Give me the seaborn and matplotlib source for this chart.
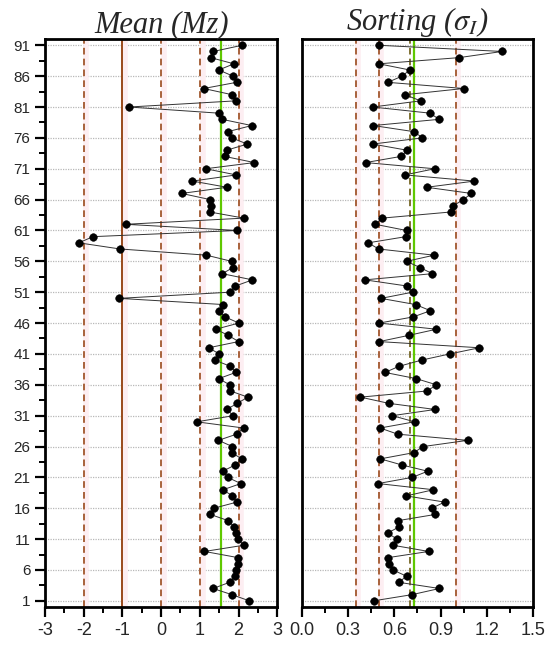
import numpy as np
import matplotlib
matplotlib.use("Agg")
import matplotlib.pyplot as plt
from matplotlib.ticker import MultipleLocator, FixedLocator
import seaborn as sns

# sample number (depth order), 1 at the bottom
sample = list(range(1, 92))

mean_mz = [2.28, 1.83, 1.34, 1.77, 1.91, 1.93, 1.98, 1.99, 1.12, 2.13,
           1.99, 1.93, 1.89, 1.73, 1.27, 1.36, 1.96, 1.84, 1.60, 2.06,
           1.72, 1.59, 1.91, 2.08, 1.83, 1.84, 1.48, 1.95, 2.13, 0.92,
           1.87, 1.69, 1.97, 2.24, 1.79, 1.77, 1.49, 1.93, 1.79, 1.38,
           1.50, 1.23, 2.00, 1.74, 1.41, 2.01, 1.65, 1.50, 1.61, -1.09,
           1.77, 1.92, 2.36, 1.58, 1.86, 1.82, 1.17, -1.06, -2.13, -1.76,
           1.97, -0.92, 2.14, 1.25, 1.29, 1.27, 0.53, 1.70, 0.81, 1.94,
           1.15, 2.41, 1.64, 1.69, 2.23, 1.82, 1.72, 2.34, 1.58, 1.50,
           -0.83, 1.93, 1.83, 1.10, 1.95, 1.86, 1.49, 1.88, 1.28, 1.35,
           2.09]

sorting = [0.465, 0.714, 0.893, 0.629, 0.679, 0.590, 0.563, 0.559, 0.823, 0.592,
           0.616, 0.557, 0.633, 0.625, 0.867, 0.843, 0.926, 0.677, 0.854, 0.494,
           0.716, 0.817, 0.651, 0.509, 0.725, 0.788, 1.076, 0.622, 0.507, 0.731,
           0.587, 0.865, 0.563, 0.380, 0.814, 0.873, 0.742, 0.539, 0.631, 0.777,
           0.960, 1.152, 0.502, 0.692, 0.873, 0.502, 0.723, 0.834, 0.738, 0.513,
           0.718, 0.683, 0.409, 0.847, 0.766, 0.679, 0.858, 0.498, 0.430, 0.675,
           0.679, 0.476, 0.520, 0.969, 0.982, 1.048, 1.100, 0.810, 1.120, 0.668,
           0.862, 0.413, 0.644, 0.683, 0.459, 0.782, 0.729, 0.463, 0.889, 0.834,
           0.459, 0.770, 0.670, 1.050, 0.557, 0.650, 0.700, 0.500, 1.020, 1.300,
           0.502]

# class boundaries and averages drawn as vertical reference lines
mean_dashed = [-2, 0, 1, 2]
mean_solid = [-1]
mean_avg = 1.54
sort_dashed = [0.35, 0.5, 1.0]
sort_mid = 0.70
sort_avg = 0.73

ytick_vals = list(range(1, 92, 5))

sns.set_style("white")
plt.rcParams["font.family"] = ["Liberation Sans", "DejaVu Sans"]
plt.rcParams["mathtext.fontset"] = "stix"

brown = "#9a4a1c"
green = "#5fc800"
pink = "#fdeef2"

fig = plt.figure(figsize=(5.5, 6.52), dpi=100)
ax1 = fig.add_axes([0.082, 0.069, 0.422, 0.871])
ax2 = fig.add_axes([0.549, 0.069, 0.420, 0.871])


def draw_panel(ax, xs):
    for y in ytick_vals:
        ax.axhline(y, color="#b8b8b8", lw=0.9, ls=(0, (1, 1)), zorder=0)
    sns.lineplot(x=xs, y=sample, sort=False, estimator=None, color="#333333",
                 lw=0.7, ax=ax, zorder=3)
    sns.scatterplot(x=xs, y=sample, color="black", s=30, edgecolor="black",
                    linewidth=0.4, ax=ax, zorder=4)
    ax.set_ylim(0, 92)
    for s in ax.spines.values():
        s.set_linewidth(2)
        s.set_color("black")
    ax.tick_params(axis="both", which="major", direction="out", length=7,
                   width=1.6, labelsize=13, color="black", bottom=True, left=True)
    ax.tick_params(axis="both", which="minor", direction="out", length=4,
                   width=1.4, color="black", bottom=True, left=True)
    ax.set_xlabel("")
    ax.set_ylabel("")


# left panel: Mean (Mz)
for v in mean_dashed + mean_solid:
    ax1.axvline(v + 0.07, color=pink, lw=4, zorder=1)
for v in mean_dashed:
    ax1.axvline(v, color=brown, lw=1.2, ls=(0, (4, 2.5)), zorder=2)
for v in mean_solid:
    ax1.axvline(v, color=brown, lw=1.4, zorder=2)
ax1.axvline(mean_avg, color=green, lw=1.6, zorder=2)
draw_panel(ax1, mean_mz)
ax1.set_xlim(-3, 3)
ax1.xaxis.set_major_locator(MultipleLocator(1))
ax1.xaxis.set_minor_locator(MultipleLocator(0.5))
ax1.set_xticklabels([f"{int(t)}" for t in ax1.get_xticks()])
ax1.yaxis.set_major_locator(FixedLocator(ytick_vals))
ax1.yaxis.set_minor_locator(FixedLocator([y + 2.5 for y in ytick_vals[:-1]]))
ax1.tick_params(axis="y", labelsize=11)
ax1.set_title("Mean (Mz)", family="Liberation Serif", style="italic",
              fontsize=22, pad=5)

# right panel: Sorting
for v in sort_dashed:
    ax2.axvline(v + 0.012, color=pink, lw=4, zorder=1)
    ax2.axvline(v, color=brown, lw=1.2, ls=(0, (4, 2.5)), zorder=2)
ax2.axvline(sort_mid, color="#6b5a12", lw=1.2, ls=(0, (4, 2.5)), zorder=2)
ax2.axvline(sort_avg, color=green, lw=1.6, zorder=2)
draw_panel(ax2, sorting)
ax2.set_xlim(0, 1.5)
ax2.xaxis.set_major_locator(MultipleLocator(0.3))
ax2.xaxis.set_minor_locator(MultipleLocator(0.15))
ax2.set_xticklabels([f"{t:.1f}" for t in ax2.get_xticks()])
ax2.yaxis.set_major_locator(FixedLocator(ytick_vals))
ax2.tick_params(axis="y", left=False, labelleft=False)
ax2.set_title(r"Sorting ($\sigma_I$)", family="Liberation Serif",
              style="italic", fontsize=22, pad=5)

plt.savefig("out.png", dpi=100)
